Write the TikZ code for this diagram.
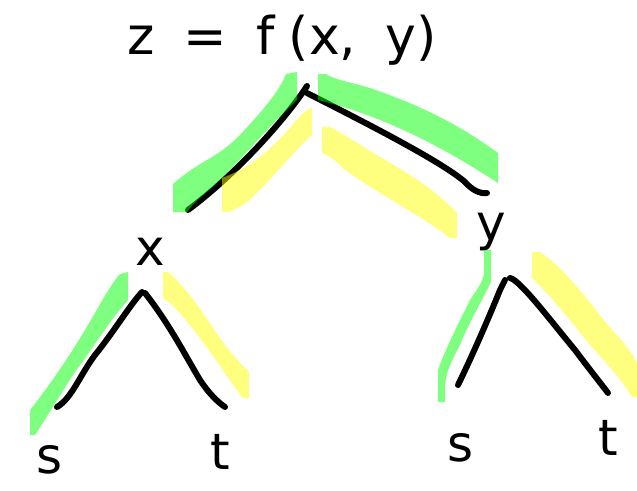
\documentclass[tikz,border=0pt]{standalone}
\usepackage{fontspec}
\setmainfont{DejaVu Sans}
\begin{document}
\begin{tikzpicture}[x=1pt,y=-1pt,
  lbl/.style={inner sep=0pt, font=\fontsize{50}{56}\selectfont},
  edge/.style={line width=6pt, line cap=round, line join=round, black},
  hlgreen/.style={fill={rgb,255:red,0;green,255;blue,0}, fill opacity=0.5, draw=none},
  hlyellow/.style={fill={rgb,255:red,255;green,255;blue,0}, fill opacity=0.5, draw=none}]
\useasboundingbox (0,0) rectangle (637,490);
% labels
\node[lbl, font=\fontsize{52}{56}\selectfont] (top) at (282,40) {z\;\;=\;\;f\;(x,\;\;y)};
\node[lbl] (x) at (150,252) {x};
\node[lbl] (y) at (491,232) {y};
\node[lbl] (s1) at (50,460) {s};
\node[lbl] (t1) at (220,452) {t};
\node[lbl] (s2) at (461,448) {s};
\node[lbl] (t2) at (608,438) {t};
% edge ends
\coordinate (a1) at (188,210); \coordinate (a2) at (307,86);
\coordinate (b1) at (307,93);  \coordinate (b2) at (487,193);
\coordinate (c1) at (57,407);  \coordinate (c2) at (142,292);
\coordinate (d1) at (145,293); \coordinate (d2) at (225,407);
\coordinate (e1) at (458,385); \coordinate (e2) at (505,280);
\coordinate (f1) at (510,278); \coordinate (f2) at (608,393);
% edges
\draw[edge] (a1) .. controls (235,175) and (285,120) .. (a2);
\draw[edge] (b1) .. controls (350,115) and (440,160) .. (465,182) .. controls (472,190) and (480,194) .. (b2);
\draw[edge] (c1) .. controls (72,398) and (80,375) .. (95,355) .. controls (115,330) and (130,305) .. (c2);
\draw[edge] (d1) .. controls (170,325) and (185,355) .. (200,380) .. controls (210,395) and (218,402) .. (d2);
\draw[edge] (e1) .. controls (475,350) and (492,310) .. (500,290) -- (e2);
\draw[edge] (f1) .. controls (520,280) and (550,320) .. (575,350) .. controls (590,370) and (602,385) .. (f2);
% highlights
\path[hlgreen] (173,184) .. controls (200,160) and (215,160) .. (240,135) .. controls (265,108) and (280,90) .. (286,74) -- (297,72) -- (297,100) .. controls (270,125) and (250,150) .. (225,175) .. controls (205,195) and (195,200) .. (187,212) -- (173,212) -- cycle;
\path[hlyellow] (222,178) .. controls (250,168) and (270,150) .. (290,128) .. controls (300,116) and (305,110) .. (312,108) -- (312,135) .. controls (295,150) and (275,175) .. (255,195) .. controls (245,205) and (235,210) .. (228,212) -- (222,212) -- cycle;
\path[hlgreen] (318,74) -- (326,74) .. controls (335,80) and (350,82) .. (370,88) .. controls (420,105) and (460,125) .. (498,153) -- (498,183) .. controls (470,165) and (430,140) .. (380,120) .. controls (350,108) and (330,103) .. (318,100) -- cycle;
\path[hlyellow] (322,127) -- (330,127) .. controls (345,135) and (360,145) .. (385,160) .. controls (420,180) and (440,195) .. (457,213) -- (457,238) -- (450,238) .. controls (420,215) and (380,195) .. (345,170) .. controls (335,160) and (328,155) .. (322,153) -- cycle;
\path[hlgreen] (30,410) .. controls (50,385) and (70,355) .. (85,330) .. controls (100,305) and (110,285) .. (120,274) -- (128,272) -- (128,300) .. controls (110,320) and (95,345) .. (75,372) .. controls (60,395) and (45,420) .. (35,435) -- (30,435) -- cycle;
\path[hlyellow] (163,272) -- (168,272) .. controls (190,290) and (210,325) .. (225,345) .. controls (235,358) and (242,365) .. (249,372) -- (249,398) -- (243,398) .. controls (232,385) and (220,365) .. (205,345) .. controls (190,325) and (175,305) .. (163,298) -- cycle;
\path[hlgreen] (484,250) -- (491,250) -- (491,282) .. controls (480,305) and (470,320) .. (460,345) .. controls (452,360) and (446,372) .. (445,385) -- (445,402) -- (438,402) -- (438,370) .. controls (445,350) and (460,320) .. (470,300) .. controls (480,285) and (484,280) .. (484,270) -- cycle;
\path[hlyellow] (532,252) -- (540,252) .. controls (560,265) and (580,290) .. (600,315) .. controls (615,335) and (628,345) .. (637,363) -- (637,397) -- (632,397) .. controls (622,380) and (608,365) .. (590,345) .. controls (570,320) and (550,295) .. (532,278) -- cycle;
\end{tikzpicture}
\end{document}
